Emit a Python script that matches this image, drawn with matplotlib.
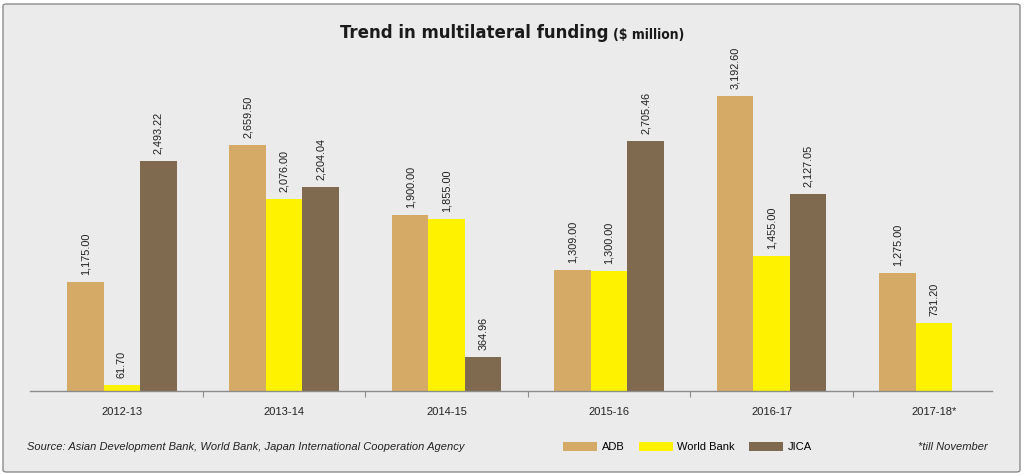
import matplotlib
matplotlib.use('Agg')
import matplotlib.pyplot as plt
from matplotlib.patches import FancyBboxPatch, Patch
import numpy as np

# data
years = ['2012-13', '2013-14', '2014-15', '2015-16', '2016-17', '2017-18*']
adb = [1175.00, 2659.50, 1900.00, 1309.00, 3192.60, 1275.00]
world_bank = [61.70, 2076.00, 1855.00, 1300.00, 1455.00, 731.20]
jica = [2493.22, 2204.04, 364.96, 2705.46, 2127.05]  # no JICA figure for 2017-18

c_adb = '#d4aa66'
c_wb = '#fff200'
c_jica = '#7f6a4f'
bg = '#ecebec'

plt.rcParams['font.family'] = ['Liberation Sans', 'DejaVu Sans']

fig = plt.figure(figsize=(10.24, 4.75), dpi=100)
fig.patch.set_facecolor('white')

# rounded grey panel behind everything
W, H = 1024, 475
panel = FancyBboxPatch((3 / W, 3 / H), 1017 / W, 468 / H,
                       boxstyle='round,pad=0,rounding_size=0.004',
                       transform=fig.transFigure, facecolor=bg,
                       edgecolor='#8c8c8c', linewidth=1.0, zorder=-5)
fig.patches.append(panel)

ax = fig.add_axes([30 / W, 84.5 / H, 962 / W, 330.5 / H])
ax.set_facecolor('none')
ax.set_zorder(2)

x = np.arange(len(years))
bw = 0.2246
b1 = ax.bar(x - bw, adb, bw, color=c_adb, label='ADB')
b2 = ax.bar(x, world_bank, bw, color=c_wb, label='World Bank')
b3 = ax.bar(x[:len(jica)] + bw, jica, bw, color=c_jica, label='JICA')

for bars in (b1, b2, b3):
    ax.bar_label(bars, labels=['{:,.2f}'.format(v) for v in bars.datavalues],
                 rotation=90, padding=5, fontsize=7.8, color='#1e1e1e')

ax.set_xlim(-0.565, 5.357)
ax.set_ylim(0, 3583)

for s in ('top', 'right', 'left'):
    ax.spines[s].set_visible(False)
ax.spines['bottom'].set_color('#8c8c8c')
ax.spines['bottom'].set_linewidth(1.0)
ax.set_yticks([])

ax.set_xticks(x)
ax.set_xticklabels(years, fontsize=8, color='#222222')
ax.tick_params(axis='x', which='major', length=0, pad=12)
ax.set_xticks(x[:-1] + 0.5, minor=True)
ax.tick_params(axis='x', which='minor', length=4, width=0.8, color='#8c8c8c')

# title
fig.text(608 / W, 1 - 33 / H, 'Trend in multilateral funding', ha='right', va='center',
         fontsize=13.3, fontweight='heavy', fontstretch='condensed',
         family=['DejaVu Sans'], color='#1a1a1a')
fig.text(613 / W, 1 - 35 / H, '($ million)', ha='left', va='center',
         fontsize=10, fontweight='bold', fontstretch='condensed',
         family=['DejaVu Sans'], color='#1a1a1a')

# footer
fy = 1 - 447 / H
fig.text(27 / W, fy, 'Source: Asian Development Bank, World Bank, Japan International Cooperation Agency',
         ha='left', va='center', fontsize=8, style='italic', color='#222222')
fig.text(988 / W, fy, '*till November', ha='right', va='center',
         fontsize=8, style='italic', color='#222222')

handles = [Patch(facecolor=c_adb), Patch(facecolor=c_wb), Patch(facecolor=c_jica)]
fig.legend(handles, ['ADB', 'World Bank', 'JICA'], loc='center left',
           bbox_to_anchor=(563 / W, fy), ncol=3, frameon=False,
           fontsize=8, handlelength=3.1, handleheight=0.9, handletextpad=0.4,
           columnspacing=1.25, borderpad=0, borderaxespad=0)

fig.savefig('out.png', dpi=100, facecolor=fig.get_facecolor())
